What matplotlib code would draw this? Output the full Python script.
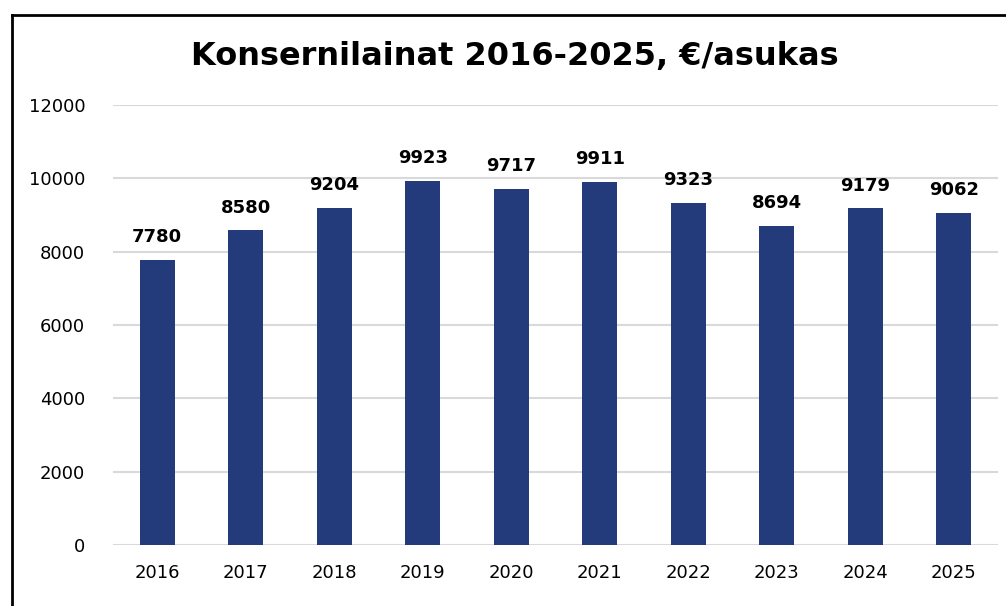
import matplotlib
matplotlib.use("Agg")
import matplotlib.pyplot as plt
from matplotlib.lines import Line2D

years = ["2016", "2017", "2018", "2019", "2020", "2021", "2022", "2023", "2024", "2025"]
values = [7780, 8580, 9204, 9923, 9717, 9911, 9323, 8694, 9179, 9062]
yticks = [0, 2000, 4000, 6000, 8000, 10000, 12000]

W, H = 1006, 606
fig = plt.figure(figsize=(W / 100, H / 100), dpi=100)
ax = fig.add_axes([113 / W, 1 - 545 / H, (998 - 113) / W, (545 - 105) / H])

x = list(range(len(years)))
bars = ax.bar(x, values, width=0.4, color="#243B7B", zorder=3)
for xi, v in zip(x, values):
    ax.annotate(f"{v}", (xi, v), xytext=(0, 10), textcoords="offset points",
                ha="center", va="bottom", fontsize=13, fontweight="bold", color="#000000")

ax.set_xlim(-0.5, len(years) - 0.5)
ax.set_ylim(0, 12000)
ax.set_yticks(yticks)
ax.set_yticklabels([str(t) for t in yticks])
ax.set_xticks(x)
ax.set_xticklabels(years)
ax.tick_params(axis="both", length=0, labelsize=13, colors="#000000")
ax.tick_params(axis="y", pad=20)
ax.tick_params(axis="x", pad=14)
ax.grid(axis="y", color="#D9D9D9", linewidth=1.5, zorder=0)
for s in ax.spines.values():
    s.set_visible(False)

fig.text(515 / W, 1 - 57 / H, "Konsernilainat 2016-2025, €/asukas", ha="center", va="center",
         fontsize=23, fontweight="bold", color="#000000")

# chart frame (left and top edges visible)
fig.add_artist(Line2D([12 / W, 12 / W], [0, 1 - 15 / H], transform=fig.transFigure, color="black", linewidth=2))
fig.add_artist(Line2D([12 / W, 1], [1 - 15 / H, 1 - 15 / H], transform=fig.transFigure, color="black", linewidth=2))

fig.savefig("out.png", dpi=100)
